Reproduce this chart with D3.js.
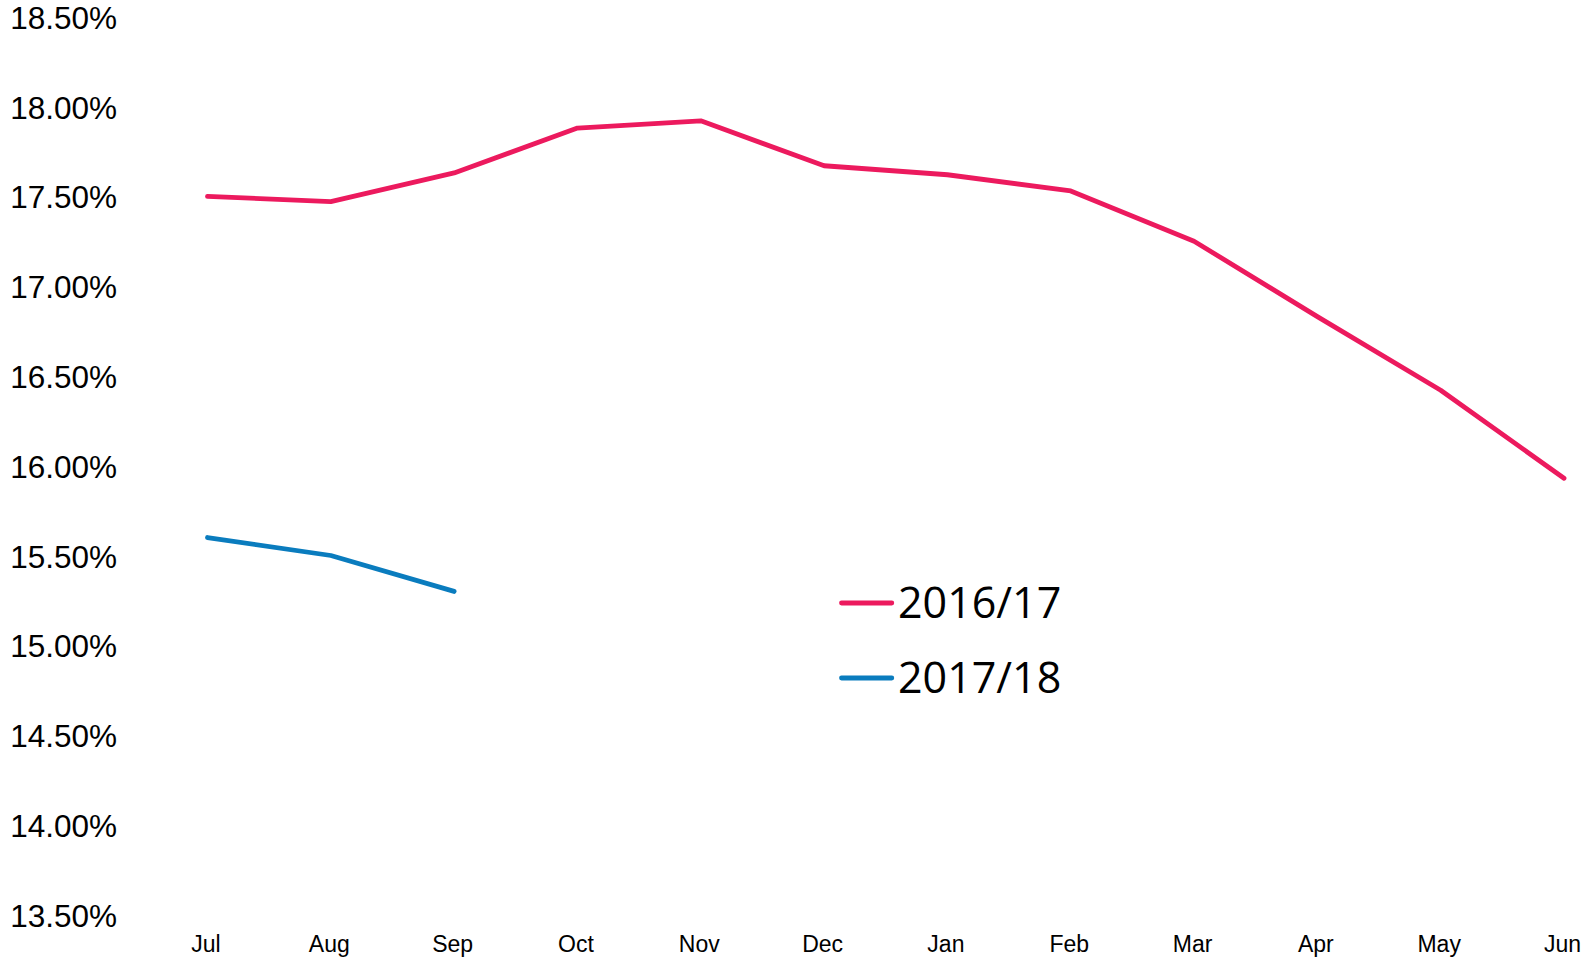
<!DOCTYPE html>
<html>
<head>
<meta charset="utf-8">
<script src="https://cdn.jsdelivr.net/npm/d3@7"></script>
<style>
  html, body { margin: 0; padding: 0; background: #ffffff; }
  svg { display: block; }
</style>
</head>
<body>
<svg id="chart" width="1583" height="957"></svg>
<script>
const months = ["Jul", "Aug", "Sep", "Oct", "Nov", "Dec", "Jan", "Feb", "Mar", "Apr", "May", "Jun"];
const series2016 = [17.50, 17.47, 17.63, 17.88, 17.92, 17.67, 17.62, 17.53, 17.25, 16.83, 16.42, 15.93];
const series2017 = [15.60, 15.50, 15.30];
const seriesNames = ["2016/17", "2017/18"];
const seriesColors = ["#EC1A5E", "#0A7CBE"];
const yTicks = [13.5, 14.0, 14.5, 15.0, 15.5, 16.0, 16.5, 17.0, 17.5, 18.0, 18.5];

const svg = d3.select("#chart");

const x = d3.scalePoint().domain(months).range([207.5, 1564]).padding(0);
const y = d3.scaleLinear().domain([13.5, 18.5]).range([914.7, 16.7]);

// Y axis (labels only)
const yAxis = d3.axisLeft(y)
  .tickValues(yTicks)
  .tickSize(0)
  .tickPadding(0)
  .tickFormat(d => d.toFixed(2) + "%");
const gy = svg.append("g").attr("transform", "translate(117,0)").call(yAxis);
gy.select(".domain").remove();
gy.selectAll("text")
  .attr("font-family", "'Liberation Sans', Arial, sans-serif")
  .attr("font-size", 31.5)
  .attr("fill", "#000")
  .attr("x", 0)
  .attr("dy", "0.37em")
  .attr("text-anchor", "end");

// X axis (labels only)
const xAxis = d3.axisBottom(x).tickSize(0).tickPadding(0);
const gx = svg.append("g").attr("transform", "translate(-2,0)").call(xAxis);
gx.select(".domain").remove();
gx.selectAll("text")
  .attr("font-family", "'Liberation Sans', Arial, sans-serif")
  .attr("font-size", 23)
  .attr("fill", "#000")
  .attr("y", 952)
  .attr("dy", 0)
  .attr("text-anchor", "middle");

const line = d3.line()
  .x((d, i) => x(months[i]))
  .y(d => y(d));

const allSeries = [series2016, series2017];
allSeries.forEach((s, k) => {
  svg.append("path")
    .datum(s)
    .attr("d", line)
    .attr("fill", "none")
    .attr("stroke", seriesColors[k])
    .attr("stroke-width", 4.8)
    .attr("stroke-linejoin", "round")
    .attr("stroke-linecap", "round");
});

// Legend
const legendRows = [603, 678];
seriesNames.forEach((name, k) => {
  const g = svg.append("g");
  g.append("line")
    .attr("x1", 841.5).attr("x2", 891.8)
    .attr("y1", legendRows[k]).attr("y2", legendRows[k])
    .attr("stroke", seriesColors[k])
    .attr("stroke-width", 4.8)
    .attr("stroke-linecap", "round");
  g.append("text")
    .attr("x", 898)
    .attr("y", legendRows[k] + 15)
    .attr("font-family", "'Open Sans', 'Noto Sans', sans-serif")
    .attr("font-size", 43)
    .attr("fill", "#000")
    .text(name);
});
</script>
</body>
</html>
